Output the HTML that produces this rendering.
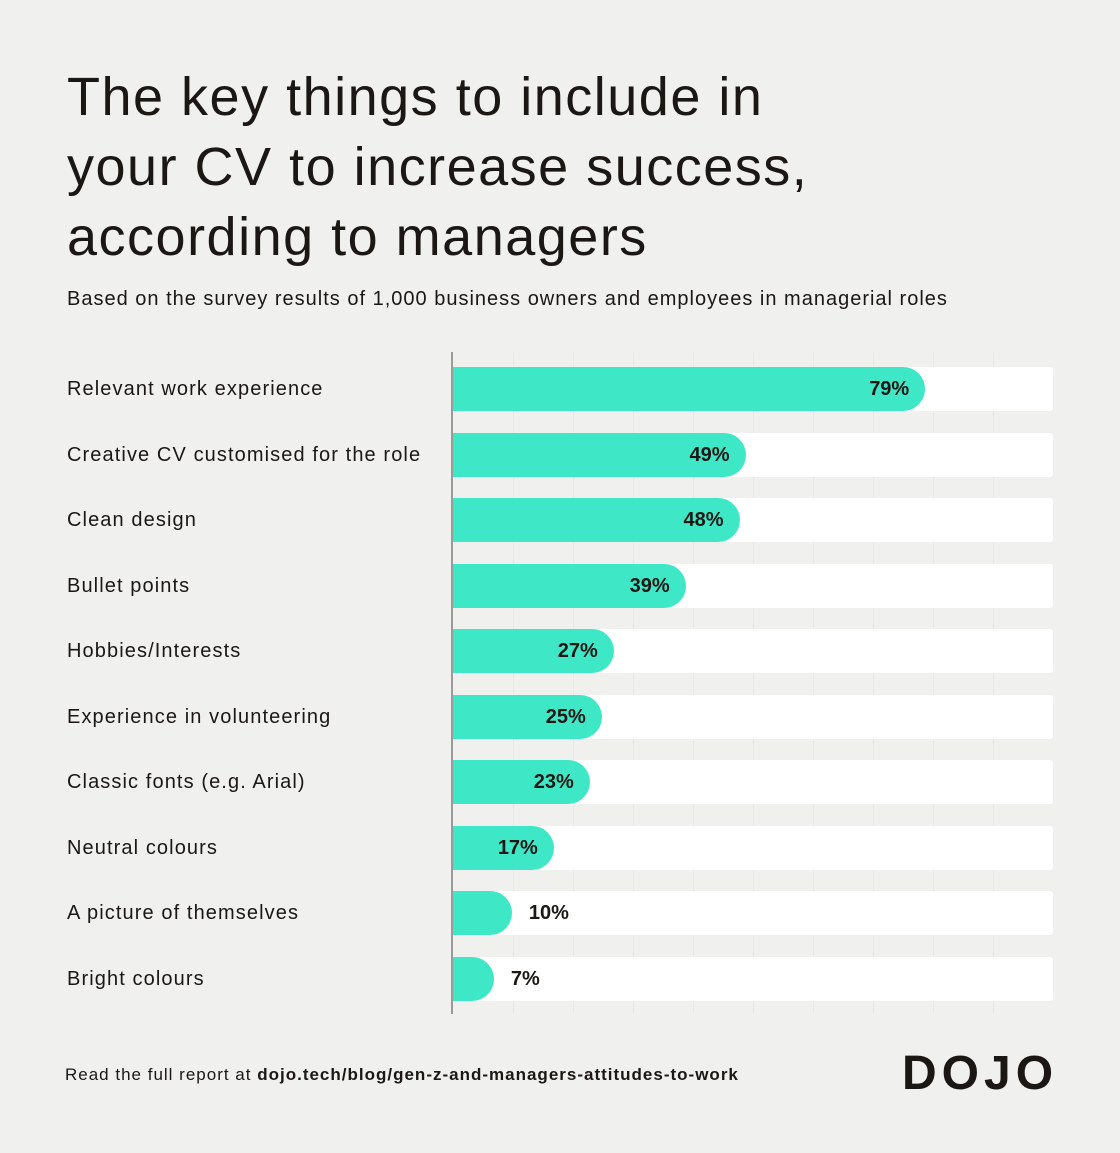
<!DOCTYPE html>
<html><head><meta charset="utf-8"><style>
*{margin:0;padding:0;box-sizing:border-box}
body{width:1120px;height:1153px;background:#f0f0ee;font-family:"Liberation Sans",sans-serif;color:#1a1714;position:relative;overflow:hidden}
.t{position:absolute;left:67px;top:62px;font-size:54px;line-height:70px;letter-spacing:1.5px;font-weight:500}
.s{position:absolute;left:67px;top:288px;font-size:20px;letter-spacing:1px}
.lab{position:absolute;left:67px;font-size:20px;line-height:24px;letter-spacing:1.1px}
.bg{position:absolute;left:452px;width:601px;height:44px;background:#fff;border-radius:0 3px 3px 0}
.bar{position:absolute;left:452px;height:44px;background:#3ee8c7;border-radius:0 22px 22px 0}
.v{position:absolute;font-size:20px;font-weight:bold;line-height:44px}
.g{position:absolute;top:352px;height:661px;width:1px;background:#e8e8e5}
.ax{position:absolute;left:451px;top:352px;width:2px;height:662px;background:#9a9a98}
.f{position:absolute;left:65px;top:1065px;font-size:17px;letter-spacing:1px}
.logo{position:absolute;left:902px;top:1046px;font-size:48px;font-weight:bold;letter-spacing:5px}
</style></head><body>
<div class="t">The key things to include in<br>your CV to increase success,<br>according to managers</div>
<div class="s">Based on the survey results of 1,000 business owners and employees in managerial roles</div>
<div class="g" style="left:513px"></div><div class="g" style="left:573px"></div><div class="g" style="left:633px"></div><div class="g" style="left:693px"></div><div class="g" style="left:753px"></div><div class="g" style="left:813px"></div><div class="g" style="left:873px"></div><div class="g" style="left:933px"></div><div class="g" style="left:993px"></div>
<div id="rows"></div>
<div class="ax"></div>
<div class="f">Read the full report at <b>dojo.tech/blog/gen-z-and-managers-attitudes-to-work</b></div>
<div class="logo">DOJO</div>
<script>
var d=[["Relevant work experience",79],["Creative CV customised for the role",49],["Clean design",48],["Bullet points",39],["Hobbies/Interests",27],["Experience in volunteering",25],["Classic fonts (e.g. Arial)",23],["Neutral colours",17],["A picture of themselves",10],["Bright colours",7]];
var h="";
d.forEach(function(r,i){var y=367+i*65.5,w=r[1]*5.99;
h+='<div class="lab" style="top:'+(y+10)+'px">'+r[0]+'</div><div class="bg" style="top:'+y+'px"></div><div class="bar" style="top:'+y+'px;width:'+w+'px"></div>';
if(r[1]>=15)h+='<div class="v" style="top:'+y+'px;right:'+(1120-452-w+16)+'px">'+r[1]+'%</div>';
else h+='<div class="v" style="top:'+y+'px;left:'+(452+w+17)+'px">'+r[1]+'%</div>';});
document.getElementById("rows").innerHTML=h;
</script>
</body></html>
